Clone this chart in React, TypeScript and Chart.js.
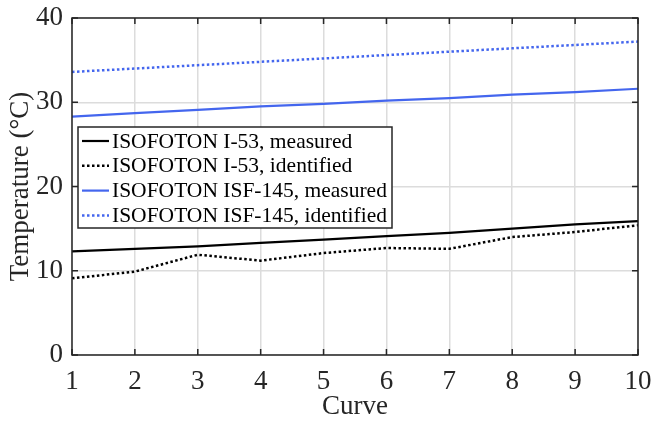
import React, { useEffect, useRef } from 'react';
import { Chart, registerables } from 'chart.js';

Chart.register(...registerables);

const curves = [1, 2, 3, 4, 5, 6, 7, 8, 9, 10];
const i53Measured = [12.3, 12.6, 12.9, 13.3, 13.7, 14.1, 14.5, 15.0, 15.5, 15.9];
const i53Identified = [9.1, 9.9, 11.9, 11.2, 12.1, 12.7, 12.6, 14.0, 14.6, 15.4];
const isf145Measured = [28.3, 28.7, 29.1, 29.5, 29.8, 30.2, 30.5, 30.9, 31.2, 31.6];
const isf145Identified = [33.6, 34.0, 34.4, 34.8, 35.2, 35.6, 36.0, 36.4, 36.8, 37.2];
const seriesLabels = [
  'ISOFOTON I-53, measured',
  'ISOFOTON I-53, identified',
  'ISOFOTON ISF-145, measured',
  'ISOFOTON ISF-145, identified',
];
const xTicks = [1, 2, 3, 4, 5, 6, 7, 8, 9, 10];
const yTicks = [0, 10, 20, 30, 40];
const xTitle = 'Curve';
const yTitle = 'Temperature (°C)';

const FONT = '"Liberation Serif", "Times New Roman", serif';
const BLUE = '#4466ee';
const BLACK = '#000000';
const AXIS_FONT = 27;

const framePlugin = {
  id: 'frame',
  afterDatasetsDraw(chart: any) {
    const { ctx, chartArea: a, scales } = chart;
    ctx.save();
    // inward ticks
    ctx.strokeStyle = '#262626';
    ctx.lineWidth = 1.5;
    const tl = 6;
    ctx.beginPath();
    xTicks.forEach((v) => {
      const px = scales.x.getPixelForValue(v);
      ctx.moveTo(px, a.bottom);
      ctx.lineTo(px, a.bottom - tl);
      ctx.moveTo(px, a.top);
      ctx.lineTo(px, a.top + tl);
    });
    yTicks.forEach((v) => {
      const py = scales.y.getPixelForValue(v);
      ctx.moveTo(a.left, py);
      ctx.lineTo(a.left + tl, py);
      ctx.moveTo(a.right, py);
      ctx.lineTo(a.right - tl, py);
    });
    ctx.stroke();
    ctx.strokeRect(a.left, a.top, a.right - a.left, a.bottom - a.top);

    // y axis title
    ctx.save();
    ctx.translate(21, (a.top + a.bottom) / 2);
    ctx.rotate(-Math.PI / 2);
    ctx.font = `${AXIS_FONT}px ${FONT}`;
    ctx.fillStyle = '#262626';
    ctx.textAlign = 'center';
    ctx.textBaseline = 'middle';
    ctx.fillText(yTitle, 0, 0);
    ctx.restore();

    // legend
    const lx = a.left + 6;
    const ly = a.top + 109;
    const lw = 314;
    const lh = 101;
    ctx.fillStyle = '#ffffff';
    ctx.fillRect(lx, ly, lw, lh);
    ctx.strokeStyle = '#262626';
    ctx.lineWidth = 1.5;
    ctx.strokeRect(lx, ly, lw, lh);
    ctx.font = `21.5px ${FONT}`;
    ctx.textBaseline = 'middle';
    ctx.textAlign = 'left';
    chart.data.datasets.forEach((ds: any, i: number) => {
      const cy = ly + 14 + i * 24.8;
      ctx.beginPath();
      ctx.strokeStyle = ds.borderColor;
      ctx.lineWidth = ds.borderWidth;
      ctx.setLineDash(ds.borderDash || []);
      ctx.moveTo(lx + 4, cy);
      ctx.lineTo(lx + 31, cy);
      ctx.stroke();
      ctx.setLineDash([]);
      ctx.fillStyle = '#000000';
      ctx.fillText(ds.label, lx + 34, cy + 1);
    });
    ctx.restore();
  },
};

const toPoints = (ys: number[]) => curves.map((c, i) => ({ x: c, y: ys[i] }));

export default function App() {
  const ref = useRef<HTMLCanvasElement | null>(null);
  useEffect(() => {
    if (!ref.current) return;
    const chart = new Chart(ref.current, {
      type: 'line',
      data: {
        datasets: [
          { label: seriesLabels[0], data: toPoints(i53Measured), borderColor: BLACK, borderWidth: 2.2, pointRadius: 0, tension: 0 },
          { label: seriesLabels[1], data: toPoints(i53Identified), borderColor: BLACK, borderWidth: 2.5, borderDash: [2.5, 2.5], pointRadius: 0, tension: 0 },
          { label: seriesLabels[2], data: toPoints(isf145Measured), borderColor: BLUE, borderWidth: 2.2, pointRadius: 0, tension: 0 },
          { label: seriesLabels[3], data: toPoints(isf145Identified), borderColor: BLUE, borderWidth: 2.5, borderDash: [2.5, 2.5], pointRadius: 0, tension: 0 },
        ],
      },
      options: {
        animation: false,
        responsive: false,
        maintainAspectRatio: false,
        layout: { padding: { top: 18, right: 16, left: 0, bottom: 0 } },
        plugins: { legend: { display: false }, tooltip: { enabled: false } },
        scales: {
          x: {
            type: 'linear',
            min: 1,
            max: 10,
            afterFit: (s: any) => { s.height = 67; s.paddingLeft = 0; s.paddingRight = 0; },
            afterBuildTicks: (s: any) => { s.ticks = xTicks.map((v) => ({ value: v })); },
            ticks: { font: { family: FONT, size: AXIS_FONT }, color: '#262626', padding: 11, maxRotation: 0, autoSkip: false },
            grid: { color: '#dcdcdc', lineWidth: 1.5, drawTicks: false },
            border: { display: false },
            title: { display: true, text: xTitle, font: { family: FONT, size: AXIS_FONT }, color: '#262626', padding: { top: 0, bottom: -1 } },
          },
          y: {
            type: 'linear',
            min: 0,
            max: 40,
            afterFit: (s: any) => { s.width = 72; s.paddingTop = 0; s.paddingBottom = 0; },
            afterBuildTicks: (s: any) => { s.ticks = yTicks.map((v) => ({ value: v })); },
            ticks: { font: { family: FONT, size: AXIS_FONT }, color: '#262626', padding: 9 },
            grid: { color: '#dcdcdc', lineWidth: 1.5, drawTicks: false },
            border: { display: false },
            title: { display: false },
          },
        },
      },
      plugins: [framePlugin],
    });
    return () => chart.destroy();
  }, []);
  return (
    <div style={{ position: 'absolute', left: 0, top: 0, width: 654, height: 422, background: '#fff' }}>
      <canvas ref={ref} width={654} height={422} style={{ width: 654, height: 422, display: 'block' }} />
    </div>
  );
}
